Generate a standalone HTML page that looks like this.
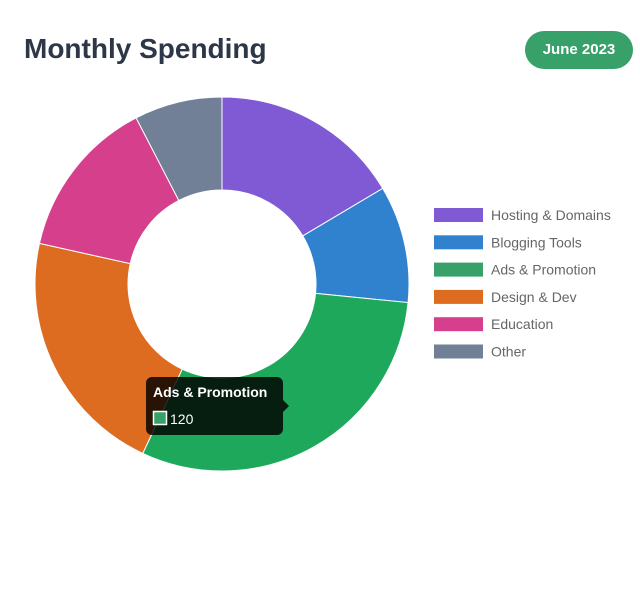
<!DOCTYPE html>
<html><head><meta charset="utf-8"><style>
body{margin:0;width:640px;height:598px;background:#fff;font-family:"Liberation Sans",sans-serif;position:relative;overflow:hidden}
#title{position:absolute;left:24px;top:33px;font-size:28px;font-weight:bold;color:#2d3748;margin:0}
#badge{position:absolute;left:525px;top:31px;width:108px;height:38px;border-radius:19px;background:#38a169;color:#fff;font-weight:bold;font-size:15px;line-height:38px;text-align:center}
svg{position:absolute;left:0;top:0}
</style></head><body>
<h1 id="title">Monthly Spending</h1>
<div id="badge">June 2023</div>
<svg id="chart" width="640" height="598"></svg>
<script>
const categories=["Hosting & Domains","Blogging Tools","Ads & Promotion","Design & Dev","Education","Other"];
const values=[65,40,120,85,55,30];
const colors=["#805ad5","#3182ce","#38a169","#dd6b20","#d53f8c","#718096"];
const hoverColors=["#805ad5","#3182ce","#1ea85c","#dd6b20","#d53f8c","#718096"];
const NS="http://www.w3.org/2000/svg";
const svg=document.getElementById('chart');
const cx=222,cy=284,R=187,r=94;
const total=values.reduce((a,b)=>a+b,0);
function pt(a,rad){return [cx+rad*Math.sin(a),cy-rad*Math.cos(a)];}
let a0=0;
values.forEach((v,i)=>{
  const a1=a0+v/total*2*Math.PI;
  const large=(a1-a0)>Math.PI?1:0;
  const p1=pt(a0,R),p2=pt(a1,R),p3=pt(a1,r),p4=pt(a0,r);
  const p=document.createElementNS(NS,'path');
  p.setAttribute('d',`M${p1}A${R},${R} 0 ${large} 1 ${p2}L${p3}A${r},${r} 0 ${large} 0 ${p4}Z`);
  p.setAttribute('fill',hoverColors[i]);
  p.setAttribute('stroke','#fff');p.setAttribute('stroke-width','1');
  
  
  svg.appendChild(p);
  a0=a1;
});
categories.forEach((c,i)=>{
  const y=215+i*27.3;
  const g=document.createElementNS(NS,'g');
  
  
  const rc=document.createElementNS(NS,'rect');
  rc.setAttribute('x',434);rc.setAttribute('y',y-7);rc.setAttribute('width',49);rc.setAttribute('height',14);rc.setAttribute('fill',colors[i]);
  const t=document.createElementNS(NS,'text');
  t.setAttribute('x',491);t.setAttribute('y',y+5);t.setAttribute('font-size','14');t.setAttribute('fill','#666');
  t.textContent=c;
  g.appendChild(rc);g.appendChild(t);svg.appendChild(g);
});
const tg=document.createElementNS(NS,'g');


tg.innerHTML=`<path d="M152,377H277a6,6 0 0 1 6,6V400L289,406L283,412V429a6,6 0 0 1 -6,6H152a6,6 0 0 1 -6,-6V383a6,6 0 0 1 6,-6Z" fill="rgba(0,0,0,0.82)"/>
<text x="153" y="397" font-size="14" font-weight="bold" fill="#fff">Ads &amp; Promotion</text>
<rect x="153.5" y="411.5" width="13" height="13" fill="#38a169" stroke="#fff" stroke-width="1.5"/>
<text x="170" y="424" font-size="14" fill="#fff">${values[2]}</text>`;
svg.appendChild(tg);
</script>
</body></html>
